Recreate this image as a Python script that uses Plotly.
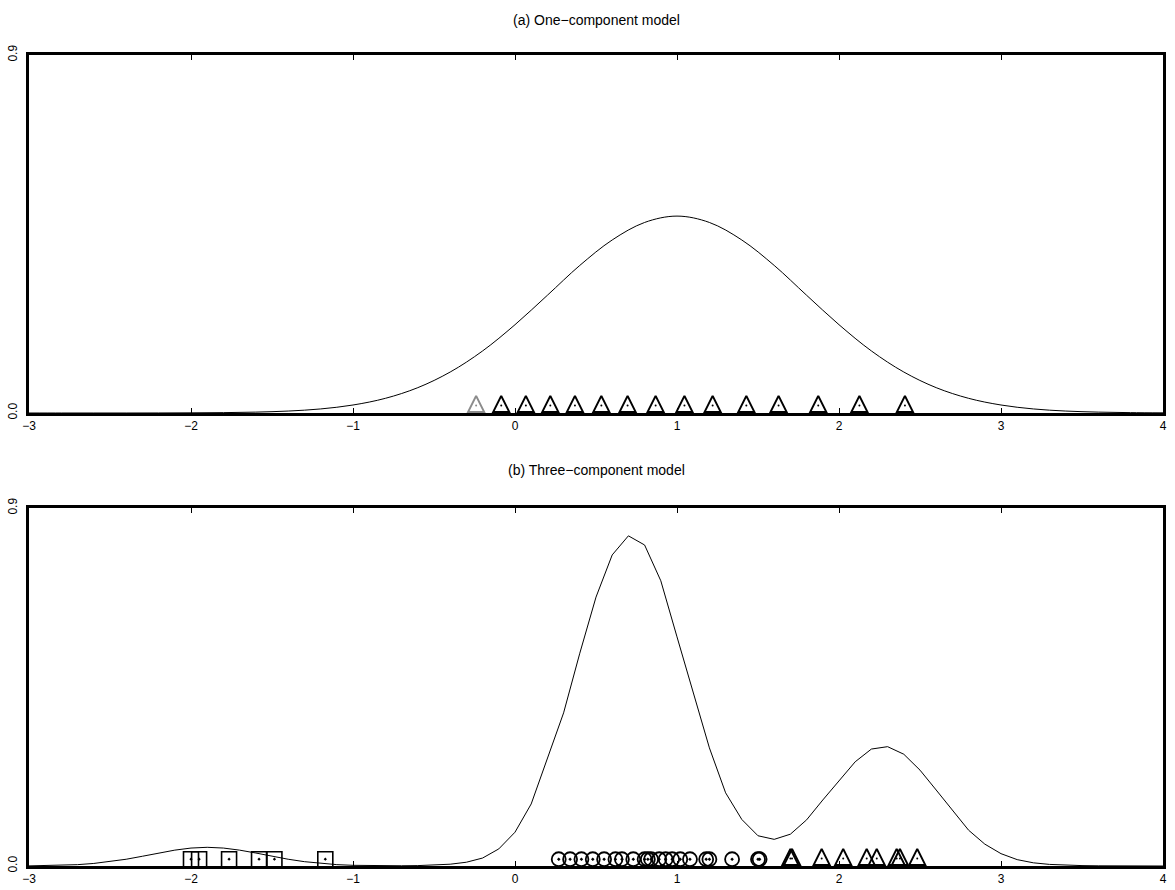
import plotly.graph_objects as go

# ---------------- data ----------------
top_curve_x = [-3.0, -2.8, -2.6, -2.4, -2.2, -2.0, -1.8, -1.6, -1.4, -1.2, -1.0, -0.8,
               -0.6, -0.4, -0.2, 0.0, 0.2, 0.4, 0.6, 0.8, 1.0, 1.2, 1.4, 1.6, 1.8,
               2.0, 2.2, 2.4, 2.6, 2.8, 3.0, 3.2, 3.4, 3.6, 3.8, 4.0]
top_curve_y = [0.0, 0.0, 0.0, 0.0, 0.0001, 0.0004, 0.0009, 0.0022, 0.0049, 0.0102, 0.0201,
               0.0369, 0.0637, 0.103, 0.156, 0.222, 0.296, 0.371, 0.435, 0.479, 0.495,
               0.479, 0.435, 0.371, 0.296, 0.222, 0.156, 0.103, 0.0637, 0.0369, 0.0201,
               0.0102, 0.0049, 0.0022, 0.0009, 0.0004]

top_tri_x = [-0.24, -0.085, 0.067, 0.218, 0.37, 0.533, 0.695, 0.868, 1.046, 1.22,
             1.428, 1.627, 1.872, 2.126, 2.407]
top_tri_color = ["#8c8c8c"] + ["black"] * 14

bot_curve_x = [-3.0, -2.9, -2.8, -2.7, -2.6, -2.5, -2.4, -2.3, -2.2, -2.1, -2.0, -1.9,
               -1.8, -1.7, -1.6, -1.5, -1.4, -1.3, -1.2, -1.1, -1.0, -0.9, -0.8, -0.7,
               -0.6, -0.5, -0.4, -0.3, -0.2, -0.1, 0.0, 0.1, 0.2, 0.3, 0.4, 0.5, 0.6,
               0.7, 0.8, 0.9, 1.0, 1.1, 1.2, 1.3, 1.4, 1.5, 1.6, 1.7, 1.8, 1.9, 2.0,
               2.1, 2.2, 2.3, 2.4, 2.5, 2.6, 2.7, 2.8, 2.9, 3.0, 3.1, 3.2, 3.3, 3.4,
               3.5, 3.6, 3.7, 3.8, 3.9, 4.0]
bot_curve_y = [0.0003, 0.0008, 0.0017, 0.0034, 0.0064, 0.0109, 0.017, 0.0245, 0.0326,
               0.0399, 0.0451, 0.047, 0.0451, 0.0399, 0.0326, 0.0245, 0.017, 0.0109,
               0.0064, 0.0034, 0.0017, 0.0008, 0.0005, 0.0006, 0.001, 0.002, 0.0045,
               0.0095, 0.02, 0.043, 0.085, 0.156, 0.269, 0.385, 0.535, 0.676, 0.782,
               0.83, 0.807, 0.717, 0.576, 0.435, 0.297, 0.184, 0.117, 0.076, 0.067,
               0.08, 0.116, 0.166, 0.214, 0.262, 0.294, 0.3, 0.281, 0.241, 0.191,
               0.139, 0.09, 0.055, 0.031, 0.016, 0.008, 0.004, 0.002, 0.001, 0.0005,
               0.0002, 0.0001, 0.0, 0.0]

bot_square_x = [-2.0, -1.95, -1.765, -1.58, -1.485, -1.171]
bot_circle_x = [0.27, 0.34, 0.41, 0.48, 0.55, 0.62, 0.66, 0.73, 0.80, 0.82, 0.84,
                0.89, 0.93, 0.97, 1.02, 1.08, 1.18, 1.20, 1.34, 1.50, 1.51]
bot_tri_x = [1.70, 1.71, 1.893, 2.026, 2.171, 2.233, 2.356, 2.376, 2.483]

x_ticks = [-3, -2, -1, 0, 1, 2, 3, 4]
y_ticks = [0.0, 0.9]
y_ticktext = ["0.0", "0.9"]
titles = ["(a) One\u2212component model", "(b) Three\u2212component model"]

# ---------------- figure ----------------
fig = go.Figure()

TRI_Y = 0.043   # tip of arrow-up marker (base on the axis)
DOT_Y = 0.019
SQ_Y = 0.017

# top panel
fig.add_trace(go.Scatter(x=top_curve_x, y=top_curve_y, mode="lines",
                         line=dict(color="black", width=1, shape="spline"),
                         xaxis="x", yaxis="y", hoverinfo="skip"))
fig.add_trace(go.Scatter(x=top_tri_x, y=[TRI_Y] * len(top_tri_x), mode="markers",
                         marker=dict(symbol="arrow-up-open", size=16, color=top_tri_color,
                                     line=dict(width=2)),
                         xaxis="x", yaxis="y", cliponaxis=False))
fig.add_trace(go.Scatter(x=top_tri_x, y=[DOT_Y] * len(top_tri_x), mode="markers",
                         marker=dict(symbol="circle", size=2, color=top_tri_color),
                         xaxis="x", yaxis="y", cliponaxis=False))

# bottom panel
fig.add_trace(go.Scatter(x=bot_curve_x, y=bot_curve_y, mode="lines",
                         line=dict(color="black", width=1),
                         xaxis="x2", yaxis="y2", hoverinfo="skip"))
fig.add_trace(go.Scatter(x=bot_square_x, y=[SQ_Y] * len(bot_square_x), mode="markers",
                         marker=dict(symbol="square-open-dot", size=15, color="black",
                                     line=dict(width=1.6)),
                         xaxis="x2", yaxis="y2", cliponaxis=False))
fig.add_trace(go.Scatter(x=bot_circle_x, y=[SQ_Y] * len(bot_circle_x), mode="markers",
                         marker=dict(symbol="circle-open-dot", size=14, color="black",
                                     line=dict(width=1.8)),
                         xaxis="x2", yaxis="y2", cliponaxis=False))
fig.add_trace(go.Scatter(x=bot_tri_x, y=[TRI_Y] * len(bot_tri_x), mode="markers",
                         marker=dict(symbol="arrow-up-open", size=16, color="black",
                                     line=dict(width=2)),
                         xaxis="x2", yaxis="y2", cliponaxis=False))
fig.add_trace(go.Scatter(x=bot_tri_x, y=[DOT_Y] * len(bot_tri_x), mode="markers",
                         marker=dict(symbol="circle", size=2, color="black"),
                         xaxis="x2", yaxis="y2", cliponaxis=False))

FONT = "Liberation Sans, Arial, sans-serif"

xaxis_common = dict(range=[-3, 4], tickmode="array", tickvals=x_ticks,
                    ticks="inside", ticklen=5, tickwidth=1, tickcolor="black",
                    showline=True, linecolor="black", linewidth=2.5, mirror="ticks",
                    showgrid=False, zeroline=False, automargin=False,
                    tickfont=dict(family=FONT, size=12, color="black"))
yaxis_common = dict(range=[0, 0.9], tickmode="array", tickvals=y_ticks, ticktext=y_ticktext,
                    ticks="", tickangle=-90, ticklabelstandoff=4,
                    showline=True, linecolor="black", linewidth=2.5, mirror=True,
                    showgrid=False, zeroline=False, automargin=False,
                    tickfont=dict(family=FONT, size=12, color="black"))

H_PLOT = 890 - 55 - 24
top_lo = 1 - 358 / H_PLOT
bot_hi = 358 / H_PLOT

fig.update_layout(
    template="none",
    width=1175, height=890,
    margin=dict(l=29, r=12, t=55, b=24, autoexpand=False),
    paper_bgcolor="white", plot_bgcolor="white",
    showlegend=False,
    xaxis=dict(domain=[0, 1], anchor="y", **xaxis_common),
    yaxis=dict(domain=[top_lo, 1], anchor="x", **yaxis_common),
    xaxis2=dict(domain=[0, 1], anchor="y2", **xaxis_common),
    yaxis2=dict(domain=[0, bot_hi], anchor="x2", **yaxis_common),
    annotations=[
        dict(text=titles[0], xref="paper", yref="paper", x=0.5, y=1 + 35 / H_PLOT,
             showarrow=False, xanchor="center", yanchor="middle",
             font=dict(family=FONT, size=14, color="black")),
        dict(text=titles[1], xref="paper", yref="paper", x=0.5, y=(866 - 470) / H_PLOT,
             showarrow=False, xanchor="center", yanchor="middle",
             font=dict(family=FONT, size=14, color="black")),
    ],
)

fig.write_html("out.html", config={"displayModeBar": False},
               post_script="document.body.style.margin='0';")
